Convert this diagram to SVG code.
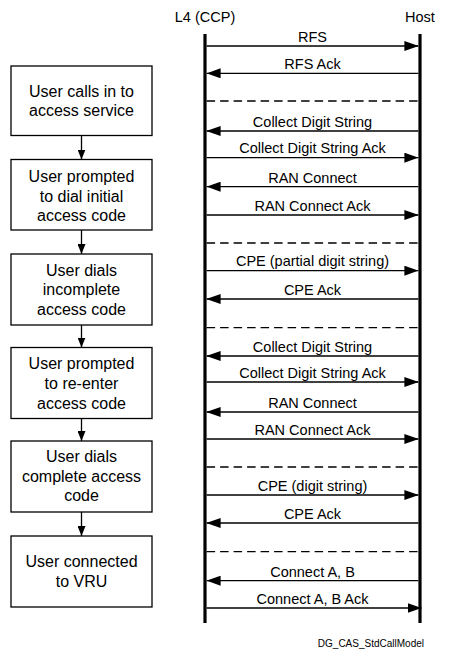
<svg xmlns="http://www.w3.org/2000/svg" width="462" height="666" viewBox="0 0 462 666">
<style>
text{font-family:"Liberation Sans",Arial,sans-serif;fill:#000}
.hdr{font-size:14.5px;text-anchor:middle}
.lbl{font-size:14.5px;text-anchor:middle}
.box rect{fill:#fff;stroke:#000;stroke-width:1.3}
.box text{font-size:16px;text-anchor:middle}
.life{stroke:#000;stroke-width:3.2}
.msg{stroke:#000;stroke-width:1.3;fill:none}
.dash{stroke:#000;stroke-width:1.3;stroke-dasharray:8.5 5;fill:none}
.flow{stroke:#000;stroke-width:1.3;fill:none}
.foot{font-size:10px;text-anchor:end}
</style>
<defs>
<marker id="ah" viewBox="0 0 14 10" refX="14" refY="5" markerWidth="14" markerHeight="10" markerUnits="userSpaceOnUse" orient="auto">
<path d="M0,0 L14,5 L0,10 z" fill="#000"/>
</marker>
<marker id="fh" viewBox="0 0 8 10" refX="4" refY="10" markerWidth="8" markerHeight="10" markerUnits="userSpaceOnUse" orient="auto-start-reverse">
<path d="M0,0 L8,0 L4,10 z" fill="#000" transform="rotate(0)"/>
</marker>
<marker id="fd" viewBox="0 0 10 8" refX="10" refY="4" markerWidth="10" markerHeight="8" markerUnits="userSpaceOnUse" orient="auto">
<path d="M0,0 L10,4 L0,8 z" fill="#000"/>
</marker>
</defs>

<g id="lifelines">
<text class="hdr" x="205" y="22">L4 (CCP)</text>
<text class="hdr" x="420" y="22">Host</text>
<line class="life" x1="205" y1="34" x2="205" y2="623"/>
<line class="life" x1="420" y1="34" x2="420" y2="623"/>
</g>

<g id="box1" class="box">
<rect x="11" y="66" width="141" height="69.5"/>
<text x="81.5" y="97">User calls in to</text>
<text x="81.5" y="116">access service</text>
</g>
<g id="box2" class="box">
<rect x="11" y="159.5" width="141" height="70.5"/>
<text x="81.5" y="182">User prompted</text>
<text x="81.5" y="201.5">to dial initial</text>
<text x="81.5" y="220.5">access code</text>
</g>
<g id="box3" class="box">
<rect x="11" y="254" width="141" height="71"/>
<text x="81.5" y="275.5">User dials</text>
<text x="81.5" y="295">incomplete</text>
<text x="81.5" y="315">access code</text>
</g>
<g id="box4" class="box">
<rect x="11" y="347.5" width="141" height="71"/>
<text x="81.5" y="368.5">User prompted</text>
<text x="81.5" y="388.5">to re-enter</text>
<text x="81.5" y="408.5">access code</text>
</g>
<g id="box5" class="box">
<rect x="11" y="441" width="141" height="71"/>
<text x="81.5" y="462">User dials</text>
<text x="81.5" y="482">complete access</text>
<text x="81.5" y="501">code</text>
</g>
<g id="box6" class="box">
<rect x="11" y="536" width="141" height="71"/>
<text x="81.5" y="567">User connected</text>
<text x="81.5" y="586.5">to VRU</text>
</g>

<g id="connectors">
<line class="flow" x1="81.5" y1="135.5" x2="81.5" y2="159.5" marker-end="url(#fd)"/>
<line class="flow" x1="81.5" y1="230" x2="81.5" y2="254" marker-end="url(#fd)"/>
<line class="flow" x1="81.5" y1="325" x2="81.5" y2="347.5" marker-end="url(#fd)"/>
<line class="flow" x1="81.5" y1="418.5" x2="81.5" y2="441" marker-end="url(#fd)"/>
<line class="flow" x1="81.5" y1="512" x2="81.5" y2="536" marker-end="url(#fd)"/>

<line class="msg" x1="206.6" y1="46" x2="418.4" y2="46" marker-end="url(#ah)"/>
<line class="msg" x1="418.4" y1="73.3" x2="206.6" y2="73.3" marker-end="url(#ah)"/>
<line class="dash" x1="206.6" y1="101" x2="418.4" y2="101"/>
<line class="msg" x1="418.4" y1="131" x2="206.6" y2="131" marker-end="url(#ah)"/>
<line class="msg" x1="206.6" y1="157.7" x2="418.4" y2="157.7" marker-end="url(#ah)"/>
<line class="msg" x1="418.4" y1="186.7" x2="206.6" y2="186.7" marker-end="url(#ah)"/>
<line class="msg" x1="206.6" y1="215" x2="418.4" y2="215" marker-end="url(#ah)"/>
<line class="dash" x1="206.6" y1="243" x2="418.4" y2="243"/>
<line class="msg" x1="206.6" y1="270.7" x2="418.4" y2="270.7" marker-end="url(#ah)"/>
<line class="msg" x1="418.4" y1="299" x2="206.6" y2="299" marker-end="url(#ah)"/>
<line class="dash" x1="206.6" y1="327.7" x2="418.4" y2="327.7"/>
<line class="msg" x1="418.4" y1="356" x2="206.6" y2="356" marker-end="url(#ah)"/>
<line class="msg" x1="206.6" y1="382" x2="418.4" y2="382" marker-end="url(#ah)"/>
<line class="msg" x1="418.4" y1="412" x2="206.6" y2="412" marker-end="url(#ah)"/>
<line class="msg" x1="206.6" y1="439" x2="418.4" y2="439" marker-end="url(#ah)"/>
<line class="dash" x1="206.6" y1="467" x2="418.4" y2="467"/>
<line class="msg" x1="206.6" y1="495" x2="418.4" y2="495" marker-end="url(#ah)"/>
<line class="msg" x1="418.4" y1="523" x2="206.6" y2="523" marker-end="url(#ah)"/>
<line class="dash" x1="206.6" y1="551.7" x2="418.4" y2="551.7"/>
<line class="msg" x1="418.4" y1="580.7" x2="206.6" y2="580.7" marker-end="url(#ah)"/>
<line class="msg" x1="206.6" y1="608" x2="421.5" y2="608" marker-end="url(#ah)"/>
</g>

<g id="labels">
<text class="lbl" x="312.5" y="42">RFS</text>
<text class="lbl" x="312.5" y="68.5">RFS Ack</text>
<text class="lbl" x="312.5" y="127">Collect Digit String</text>
<text class="lbl" x="312.5" y="153">Collect Digit String Ack</text>
<text class="lbl" x="312.5" y="182.5">RAN Connect</text>
<text class="lbl" x="312.5" y="210.5">RAN Connect Ack</text>
<text class="lbl" x="312.5" y="266">CPE (partial digit string)</text>
<text class="lbl" x="312.5" y="294.5">CPE Ack</text>
<text class="lbl" x="312.5" y="351.5">Collect Digit String</text>
<text class="lbl" x="312.5" y="377.5">Collect Digit String Ack</text>
<text class="lbl" x="312.5" y="408">RAN Connect</text>
<text class="lbl" x="312.5" y="434.5">RAN Connect Ack</text>
<text class="lbl" x="312.5" y="491">CPE (digit string)</text>
<text class="lbl" x="312.5" y="519">CPE Ack</text>
<text class="lbl" x="312.5" y="576.5">Connect A, B</text>
<text class="lbl" x="312.5" y="604">Connect A, B Ack</text>
<text class="foot" x="424" y="647">DG_CAS_StdCallModel</text>
</g>
</svg>
